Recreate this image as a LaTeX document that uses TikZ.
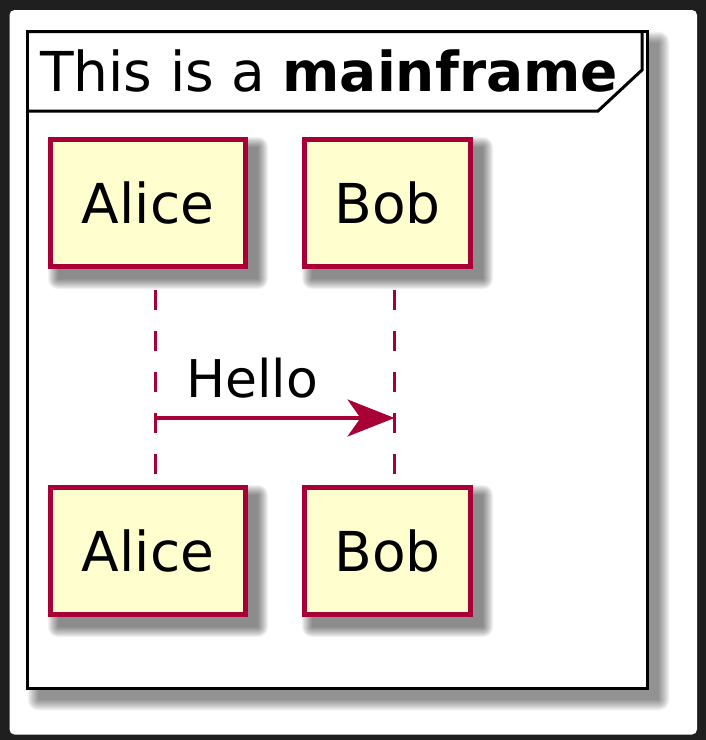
\documentclass[tikz,border=0pt]{standalone}
\usepackage{fontspec}
\setmainfont{DejaVu Sans}
\usetikzlibrary{arrows.meta,backgrounds}
\definecolor{umlred}{HTML}{A80036}
\definecolor{umlfill}{HTML}{FEFECE}
\definecolor{screen}{HTML}{1F1F1F}
\newcommand\umlshadow[1]{\foreach \s in {0,...,10}{\fill[black, opacity=0.05, rounded corners=\s pt] ([xshift={(10-\s)*1pt}, yshift={(-10+\s)*1pt}]#1.north west) rectangle ([xshift={(10+\s)*1pt}, yshift={(-10-\s)*1pt}]#1.south east);}}
\begin{document}
\begin{tikzpicture}[x=1pt,y=-1pt,part/.style={draw=umlred, fill=umlfill, line width=5pt, minimum height=127pt, inner sep=0pt, font=\fontsize{55}{66}\selectfont},lifeline/.style={draw=umlred, line width=3pt, dash pattern=on 20pt off 21pt, dash phase=20pt},msg/.style={draw=umlred, line width=3.5pt, -{Stealth[length=47pt, width=37pt, inset=13pt]}},frameline/.style={draw=black, line width=3pt}]
\draw[frameline, line width=3.5pt] (27.5,31.5) rectangle (647.5,688.5);
\draw[frameline] (27.5,31.5) -| (642,70) -- (598,111) -- (27.5,111);
\node[anchor=base west, inner sep=0pt, font=\fontsize{55}{66}\selectfont] (title) at (40,91) {This is a \textbf{mainframe}};
\node[part, minimum width=195pt] (alicetop) at (148,203) {Alice};\node[part, minimum width=166pt] (bobtop) at (387.5,203) {Bob};
\node[part, minimum width=195pt] (alicebot) at (148,551) {Alice};\node[part, minimum width=166pt] (bobbot) at (387.5,551) {Bob};
\draw[lifeline] ([xshift=7pt]alicetop.south) -- ([xshift=7pt]alicebot.north);
\draw[lifeline] ([xshift=7pt]bobtop.south) -- ([xshift=7pt]bobbot.north);
\coordinate (alicemsg) at (155,418);\coordinate (bobmsg) at (394.5,418);
\draw[msg] (alicemsg) -- (bobmsg);
\node[anchor=base west, inner sep=0pt, font=\fontsize{52}{62}\selectfont] (hello) at (186,397) {Hello};
\begin{pgfonlayer}{background}
\fill[screen] (0,0) rectangle (706,740);
\fill[white, rounded corners=5pt] (9.5,10) rectangle (697,734.5);
\foreach \s in {0,...,11}{\fill[black, opacity=0.045, rounded corners=\s pt] (38.5-\s,42.5-\s) rectangle (658.5+\s,699.5+\s);}
\fill[white] (27.5,31.5) rectangle (647.5,688.5);
\umlshadow{alicetop}\umlshadow{bobtop}\umlshadow{alicebot}\umlshadow{bobbot}
\end{pgfonlayer}
\end{tikzpicture}
\end{document}
